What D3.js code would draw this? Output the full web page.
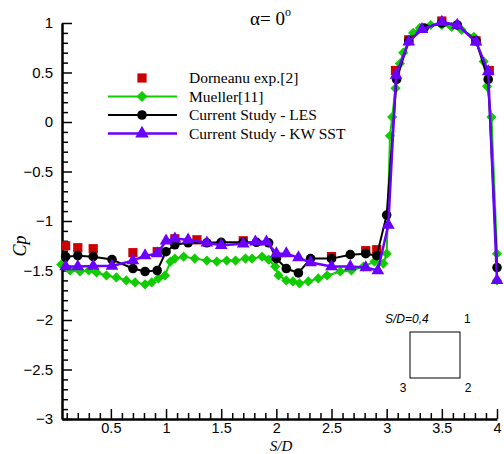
<!DOCTYPE html>
<html><head><meta charset="utf-8">
<script src="https://cdn.jsdelivr.net/npm/d3@7"></script>
<style>body{margin:0;background:#fff}svg{display:block}</style>
</head><body>
<script>
// Data
const expX = [0.09,0.2,0.34,0.7,0.92,1.08,1.28,1.7,2.5,2.81,2.91,3.08,3.2,3.5,3.81,3.93];
const expY = [-1.25,-1.27,-1.28,-1.32,-1.31,-1.18,-1.19,-1.2,-1.36,-1.3,-1.29,0.52,0.83,1.02,0.82,0.52];

const muellerX = [0.05,0.13,0.22,0.3,0.37,0.46,0.55,0.64,0.72,0.81,0.87,0.93,0.99,1.04,1.08,1.16,1.26,1.37,1.46,1.55,1.63,1.72,1.78,1.87,1.93,1.99,2.02,2.09,2.15,2.21,2.29,2.38,2.46,2.58,2.68,2.79,2.89,2.97,3.0,3.03,3.05,3.08,3.12,3.15,3.24,3.3,3.4,3.5,3.59,3.68,3.79,3.88,3.91,3.95,4.0,4.0];
const muellerY = [-1.44,-1.5,-1.51,-1.5,-1.52,-1.55,-1.57,-1.6,-1.62,-1.64,-1.62,-1.58,-1.55,-1.41,-1.38,-1.36,-1.38,-1.4,-1.41,-1.4,-1.4,-1.38,-1.38,-1.36,-1.39,-1.46,-1.55,-1.6,-1.61,-1.63,-1.61,-1.58,-1.55,-1.51,-1.5,-1.46,-1.41,-1.43,-1.33,-0.14,0.05,0.34,0.59,0.7,0.9,0.95,0.98,0.98,0.96,0.93,0.86,0.61,0.36,0.05,-1.33,-1.6];

const lesX = [0.09,0.2,0.34,0.51,0.7,0.81,0.92,1.0,1.08,1.2,1.37,1.5,1.7,1.82,1.93,2.0,2.09,2.2,2.31,2.5,2.67,2.81,2.91,3.0,3.09,3.2,3.34,3.5,3.64,3.81,3.92,4.0];
const lesY = [-1.36,-1.35,-1.36,-1.39,-1.48,-1.51,-1.5,-1.31,-1.24,-1.22,-1.22,-1.215,-1.215,-1.215,-1.22,-1.38,-1.48,-1.525,-1.38,-1.38,-1.34,-1.33,-1.35,-0.94,0.43,0.82,0.95,1.0,0.98,0.82,0.43,-1.47];

const kwX = [0.09,0.2,0.34,0.51,0.7,0.81,0.92,1.0,1.08,1.2,1.37,1.5,1.7,1.81,1.91,2.0,2.09,2.2,2.31,2.5,2.67,2.81,2.92,3.015,3.085,3.2,3.32,3.5,3.64,3.81,3.92,4.0];
const kwY = [-1.46,-1.46,-1.455,-1.455,-1.4,-1.35,-1.33,-1.2,-1.18,-1.19,-1.22,-1.245,-1.23,-1.21,-1.21,-1.33,-1.33,-1.37,-1.42,-1.46,-1.46,-1.47,-1.5,-1.04,0.475,0.81,0.935,1.01,0.98,0.81,0.51,-1.6];

const xMajor = [0.5,1,1.5,2,2.5,3,3.5,4];
const yMajor = [1,0.5,0,-0.5,-1,-1.5,-2,-2.5,-3];
const legendLabels = ["Dorneanu exp.[2]","Mueller[11]","Current Study - LES","Current Study - KW SST"];

const W = 504, H = 454;
const svg = d3.select("body").append("svg").attr("width",W).attr("height",H);

const x = d3.scaleLinear().domain([0.057,4]).range([62,497]);
const y = d3.scaleLinear().domain([-3,1]).range([419,23]);

const RED="#cc0000", GREEN="#11cc00", BLACK="#000000", PURPLE="#6a00ff";

// minor ticks
const xMinor = d3.range(1,41).map(i=>i/10).filter(v=>!xMajor.some(m=>Math.abs(m-v)<1e-9));
const yMinor = d3.range(-30,11).map(i=>i/10).filter(v=>!yMajor.some(m=>Math.abs(m-v)<1e-9));

const axisFont = "Liberation Sans, Arial, sans-serif";

// X axis
const gx = svg.append("g").attr("transform",`translate(0,${y(-3)})`);
gx.call(d3.axisBottom(x).tickValues(xMajor).tickSizeInner(-10).tickSizeOuter(0).tickPadding(4).tickFormat(d3.format("")));
gx.append("g").call(d3.axisBottom(x).tickValues(xMinor).tickSizeInner(-6).tickSizeOuter(0).tickFormat(""));
const gy = svg.append("g").attr("transform",`translate(${x(0.057)},0)`);
gy.call(d3.axisLeft(y).tickValues(yMajor).tickSizeInner(-10).tickSizeOuter(0).tickPadding(9).tickFormat(d3.format("")));
gy.append("g").call(d3.axisLeft(y).tickValues(yMinor).tickSizeInner(-6).tickSizeOuter(0).tickFormat(""));
svg.selectAll(".domain").attr("stroke","#000").attr("stroke-width",2.5);
svg.selectAll(".tick line").attr("stroke","#000").attr("stroke-width",1.5);
svg.selectAll(".tick text").attr("font-family",axisFont).attr("font-size",15).attr("fill","#000");
gx.selectAll(".tick text").attr("font-size",14.5);
gx.selectAll("g").selectAll(".domain").remove();
gy.selectAll("g").selectAll(".domain").remove();

// series helpers
const line = d3.line().x(d=>x(d[0])).y(d=>y(d[1]));
const zip = (a,b)=>a.map((v,i)=>[v,b[i]]);

function drawLine(data,color,w){
  svg.append("path").datum(data).attr("d",line).attr("fill","none").attr("stroke",color).attr("stroke-width",w).attr("stroke-linejoin","round");
}
const mueller = zip(muellerX,muellerY), exp = zip(expX,expY), les = zip(lesX,lesY), kw = zip(kwX,kwY);

// Mueller
drawLine(mueller,GREEN,2);
svg.append("g").selectAll("path").data(mueller).join("path")
  .attr("d",d3.symbol().type(d3.symbolSquare).size(52)())
  .attr("transform",d=>`translate(${x(d[0])},${y(d[1])}) rotate(45)`).attr("fill",GREEN);
// Exp
svg.append("g").selectAll("path").data(exp).join("path")
  .attr("d",d3.symbol().type(d3.symbolSquare).size(85)())
  .attr("transform",d=>`translate(${x(d[0])},${y(d[1])})`).attr("fill",RED);
// LES
drawLine(les,BLACK,2);
svg.append("g").selectAll("circle").data(les).join("circle")
  .attr("cx",d=>x(d[0])).attr("cy",d=>y(d[1])).attr("r",4.8).attr("fill",BLACK);
// KW SST
drawLine(kw,PURPLE,2.5);
svg.append("g").selectAll("path").data(kw).join("path")
  .attr("d",d3.symbol().type(d3.symbolTriangle).size(70)())
  .attr("transform",d=>`translate(${x(d[0])},${y(d[1])})`).attr("fill",PURPLE);

// Legend
const serif = "Liberation Serif, Times New Roman, serif";
const legY = [78,96.5,115,133.5];
const lg = svg.append("g");
legendLabels.forEach((t,i)=>{
  lg.append("text").attr("x",189).attr("y",legY[i]).attr("dy","0.35em").attr("font-family",serif).attr("font-size",15.5).text(t);
});
lg.append("path").attr("d",d3.symbol().type(d3.symbolSquare).size(85)()).attr("transform",`translate(142,${legY[0]})`).attr("fill",RED);
lg.append("line").attr("x1",108).attr("x2",177).attr("y1",legY[1]).attr("y2",legY[1]).attr("stroke",GREEN).attr("stroke-width",2);
lg.append("path").attr("d",d3.symbol().type(d3.symbolSquare).size(60)()).attr("transform",`translate(142,${legY[1]}) rotate(45)`).attr("fill",GREEN);
lg.append("line").attr("x1",108).attr("x2",177).attr("y1",legY[2]).attr("y2",legY[2]).attr("stroke",BLACK).attr("stroke-width",2);
lg.append("circle").attr("cx",142).attr("cy",legY[2]).attr("r",4.8).attr("fill",BLACK);
lg.append("line").attr("x1",108).attr("x2",177).attr("y1",legY[3]).attr("y2",legY[3]).attr("stroke",PURPLE).attr("stroke-width",2.5);
lg.append("path").attr("d",d3.symbol().type(d3.symbolTriangle).size(80)()).attr("transform",`translate(142,${legY[3]})`).attr("fill",PURPLE);

// Title
const title = svg.append("text").attr("x",250).attr("y",25).attr("font-family",serif).attr("font-size",19);
title.append("tspan").text("α= 0");
title.append("tspan").attr("font-size",12).attr("dy",-9).text("o");

// Axis titles
svg.append("text").attr("transform","translate(26,246) rotate(-90)").attr("text-anchor","middle")
  .attr("font-family",serif).attr("font-style","italic").attr("font-size",18).text("Cp");
svg.append("text").attr("x",281).attr("y",450.5).attr("text-anchor","middle")
  .attr("font-family",serif).attr("font-style","italic").attr("font-size",15).text("S/D");

// Inset
svg.append("text").attr("x",385).attr("y",323).attr("font-family",axisFont).attr("font-style","italic").attr("font-size",12).text("S/D=0,4");
svg.append("rect").attr("x",410).attr("y",332).attr("width",50).attr("height",46).attr("fill","none").attr("stroke","#000").attr("stroke-width",1);
svg.append("text").attr("x",464).attr("y",323).attr("font-family",axisFont).attr("font-size",12).text("1");
svg.append("text").attr("x",403).attr("y",392).attr("text-anchor","middle").attr("font-family",axisFont).attr("font-size",12).text("3");
svg.append("text").attr("x",468).attr("y",392).attr("text-anchor","middle").attr("font-family",axisFont).attr("font-size",12).text("2");
</script>
</body></html>
